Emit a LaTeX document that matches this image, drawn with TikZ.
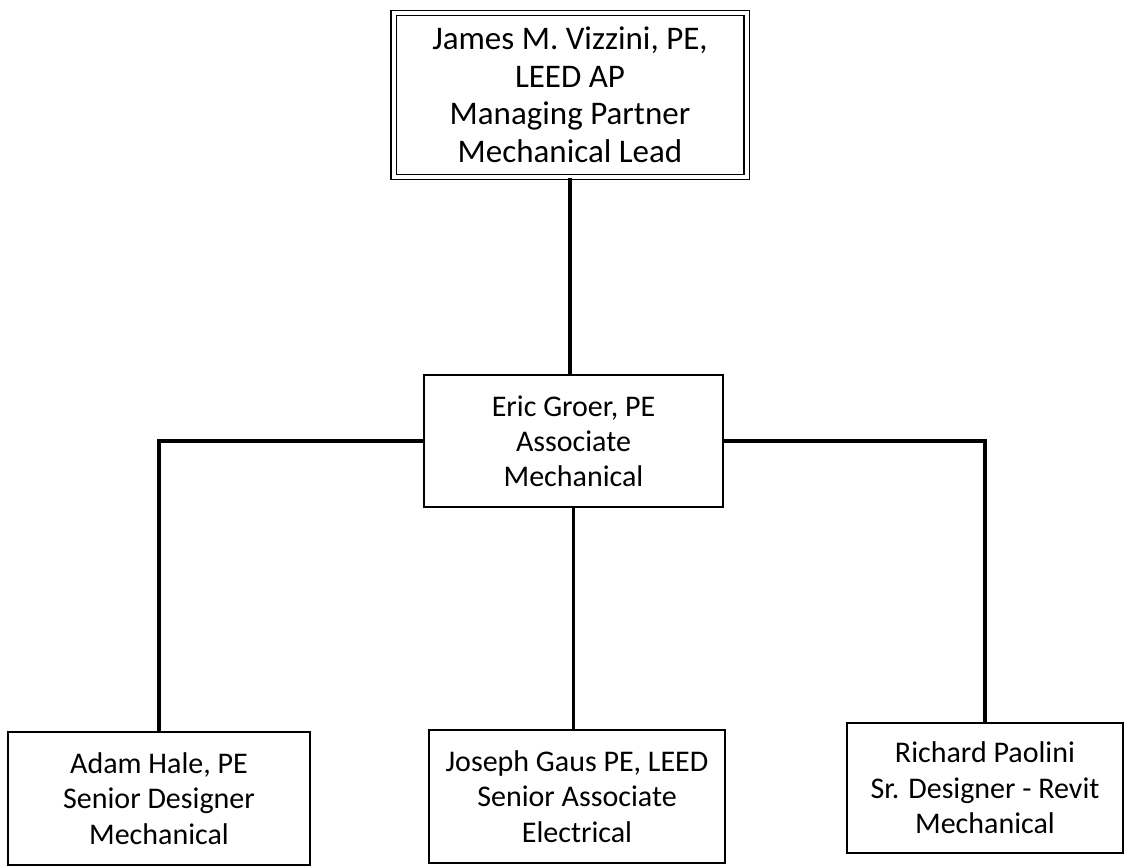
\documentclass[tikz,border=0pt]{standalone}
\usepackage{fontspec}
\setmainfont{Carlito}
\usepackage{tikz}

\begin{document}
\begin{tikzpicture}[x=1pt,y=-1pt,
    box/.style={draw,line width=1.8pt,align=center,inner sep=0pt,
        font=\fontsize{30}{35.5}\selectfont},
    link/.style={line width=3.4pt}]
    \useasboundingbox (0,0) rectangle (1126,867);
    \node[box,double,double distance=4pt,line width=1.4pt,
        minimum width=353pt,minimum height=164pt,
        font=\fontsize{33}{37.5}\selectfont] (lead) at (570,95)
        {James M. Vizzini, PE,\\LEED AP\\Managing Partner\\Mechanical Lead};
    \node[box,minimum width=299pt,minimum height=132pt,
        font=\fontsize{30}{35}\selectfont] (assoc) at (573.5,441)
        {Eric Groer, PE\\Associate\\Mechanical};
    \node[box,minimum width=302pt,minimum height=133pt] (hale) at (159,798.5)
        {Adam Hale, PE\\Senior Designer\\Mechanical};
    \node[box,minimum width=296pt,minimum height=133pt] (gaus) at (577,796.5)
        {Joseph Gaus PE, LEED\\Senior Associate\\Electrical};
    \node[box,minimum width=276pt,minimum height=130pt] (paolini) at (985,788)
        {Richard Paolini\\Sr. Designer - Revit\\Mechanical};
    \draw[link] (lead.south) -- (lead.south |- assoc.north);
    \draw[link] (assoc.west) -| (hale.north);
    \draw[link] (assoc.east) -| (paolini.north);
    \draw[link] (assoc.south) -- (assoc.south |- gaus.north);
\end{tikzpicture}
\end{document}
